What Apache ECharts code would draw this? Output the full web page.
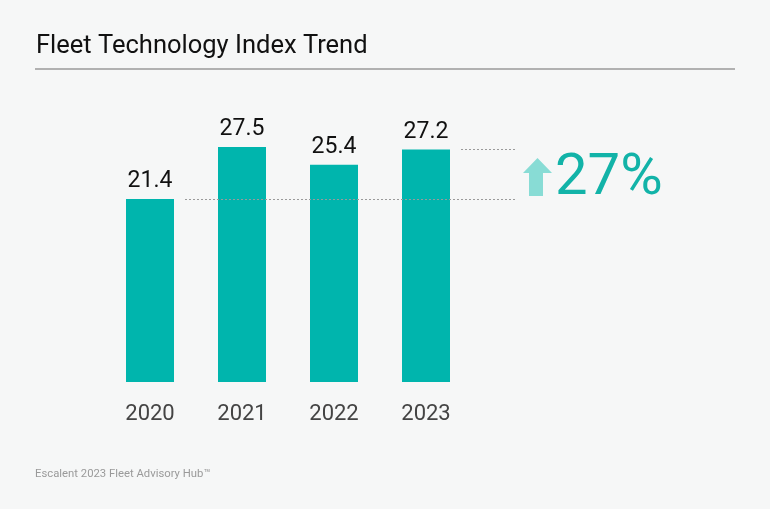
<!DOCTYPE html>
<html>
<head>
<meta charset="utf-8">
<style>
html,body{margin:0;padding:0;background:#f6f7f7;}
#c{width:770px;height:509px;}
</style>
<script src="https://cdn.jsdelivr.net/npm/echarts@6/dist/echarts.min.js"></script>
</head>
<body>
<div id="c"></div>
<script>
const categories = ['2020', '2021', '2022', '2023'];
const indexValues = [21.4, 27.5, 25.4, 27.2];
const changeLabel = '27%';
const titleText = 'Fleet Technology Index Trend';
const sourceText = 'Escalent 2023 Fleet Advisory Hub\u2122';

const teal = '#00b5ad';
const FONT = 'Roboto, "Noto Sans", sans-serif';

const chart = echarts.init(document.getElementById('c'));
const first = indexValues[0];
const last = indexValues[indexValues.length - 1];

chart.setOption({
  backgroundColor: '#f6f7f7',
  animation: false,
  title: {
    text: titleText,
    left: 31,
    top: 29,
    textStyle: { fontFamily: FONT, fontSize: 25.5, fontWeight: 'normal', color: '#111' }
  },
  grid: { left: 104, right: 298, top: 125.5, bottom: 127, containLabel: false },
  xAxis: {
    type: 'category',
    data: categories,
    axisLine: { show: false },
    axisTick: { show: false },
    axisLabel: { fontFamily: FONT, fontSize: 22, color: '#444', margin: 21 }
  },
  yAxis: {
    type: 'value',
    min: 0,
    max: 30,
    show: false,
    splitLine: { show: false }
  },
  series: [{
    type: 'bar',
    data: indexValues,
    barWidth: 48,
    itemStyle: { color: teal },
    label: {
      show: true,
      position: 'top',
      distance: 6,
      fontFamily: FONT,
      fontSize: 23,
      color: '#111'
    },
    markLine: {
      silent: true,
      symbol: 'none',
      label: { show: false },
      lineStyle: { color: '#9a9a9a', type: [2, 2], width: 1 },
      data: [
        [{ x: 185, yAxis: first }, { x: 517, yAxis: first }],
        [{ x: 461, yAxis: last }, { x: 517, yAxis: last }]
      ]
    }
  }],
  graphic: [
    {
      type: 'line',
      shape: { x1: 35, y1: 69, x2: 735, y2: 69 },
      style: { stroke: '#9a9a9a', lineWidth: 1.5 }
    },
    {
      type: 'polygon',
      shape: { points: [[537.5, 158], [552, 173], [543, 173], [543, 196], [529, 196], [529, 173], [523, 173]] },
      style: { fill: '#88dcd5' }
    },
    {
      type: 'text',
      left: 555,
      top: 150,
      style: { text: changeLabel, fontFamily: FONT, fontSize: 58, fill: '#12b3a8' }
    },
    {
      type: 'text',
      left: 35,
      top: 469,
      style: { text: sourceText, fontFamily: FONT, fontSize: 11.3, fill: '#9a9a9a' }
    }
  ]
});
</script>
</body>
</html>
